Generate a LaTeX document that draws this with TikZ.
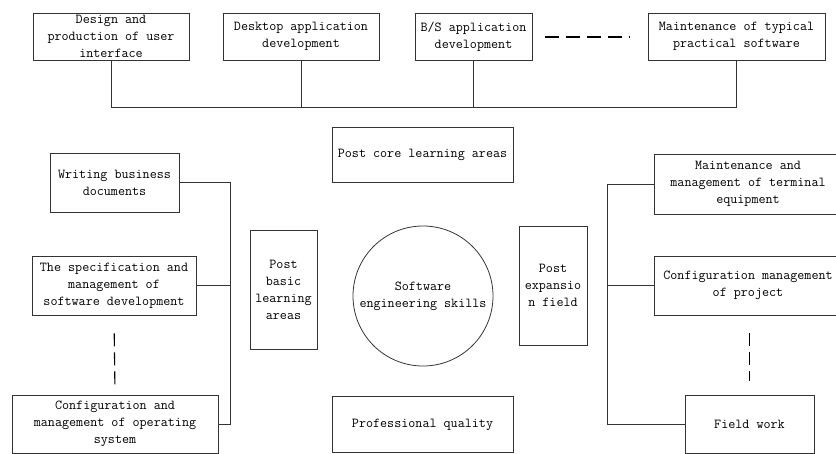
\documentclass[tikz,border=0pt]{standalone}
\tikzset{
  box/.style={draw, rectangle, inner sep=0pt, align=center,
    font=\ttfamily\fontsize{13.7}{17}\selectfont},
  link/.style={draw=black!80, line width=0.8pt},
  gap/.style={draw=black, line width=1.1pt, dash pattern=on 13pt off 6pt}
}
\begin{document}
\begin{tikzpicture}[x=1pt,y=-1pt,every node/.append style={draw=black!80, line width=0.8pt}]
      \useasboundingbox (0,0) rectangle (836,453);
      % top row
      \node[box, minimum width=156pt, minimum height=47pt] (ui) at (111,36.5) {Design and\\production of user\\interface};
      \node[box, minimum width=156pt, minimum height=47pt] (desk) at (301,36.5) {Desktop application\\development};
      \node[box, minimum width=117pt, minimum height=47pt] (bs) at (473.5,36.5) {B/S application\\development};
      \node[box, minimum width=177pt, minimum height=47pt] (soft) at (736.5,36.5) {Maintenance of typical\\practical software};
      \coordinate (dashA) at (545,37);
      \coordinate (dashB) at (630,37);
      \draw[gap, dash pattern=on 14pt off 7pt] (dashA) -- (dashB);
      \coordinate (bus) at (0,107);
      \draw[link] (ui.south) |- (soft.south |- bus) -- (soft.south);
      \draw[link] (desk.south) -- (desk.south |- bus);
      \draw[link] (bs.south) -- (bs.south |- bus);
      % centre
      \node[box, minimum width=181pt, minimum height=55pt] (core) at (422.5,154.5) {Post core learning areas};
      \node[box, circle, minimum size=140pt] (skill) at (423,296) {Software\\engineering skills};
      \node[box, minimum width=181pt, minimum height=56pt] (quality) at (422.5,424.5) {Professional quality};
      \node[box, minimum width=67pt, minimum height=119pt] (basic) at (283.5,289.5) {Post\\basic\\learning\\areas};
      \node[box, minimum width=68pt, minimum height=119pt] (expand) at (553,285.5) {Post\\expansio\\n field};
      % left column
      \node[box, minimum width=129pt, minimum height=59pt] (writ) at (114.5,182.5) {Writing business\\documents};
      \node[box, minimum width=164pt, minimum height=59pt] (spec) at (114,285.5) {The specification and\\management of\\software development};
      \node[box, minimum width=206pt, minimum height=58pt] (os) at (115,424) {Configuration and\\management of operating\\system};
      \coordinate (lbar) at (230,0);
      \draw[link] (writ.east) -| (lbar |- os.east) -- (os.east);
      \draw[link] (spec.east) -- (lbar |- spec.east);
      \draw[gap, shorten <=18pt, shorten >=10pt] (spec.south) -- (os.north);
      % right column
      \node[box, minimum width=188pt, minimum height=60pt] (term) at (748,184) {Maintenance and\\management of terminal\\equipment};
      \node[box, minimum width=188pt, minimum height=59pt] (proj) at (748,285.5) {Configuration management\\of project};
      \node[box, minimum width=129pt, minimum height=58pt] (field) at (749.5,424) {Field work};
      \coordinate (rbar) at (607,0);
      \draw[link] (term.west) -| (rbar |- field.west) -- (field.west);
      \draw[link] (proj.west) -- (rbar |- proj.west);
      \draw[gap, shorten <=18pt, shorten >=14pt] (proj.south -| field.north) -- (field.north);
    \end{tikzpicture}
\end{document}
